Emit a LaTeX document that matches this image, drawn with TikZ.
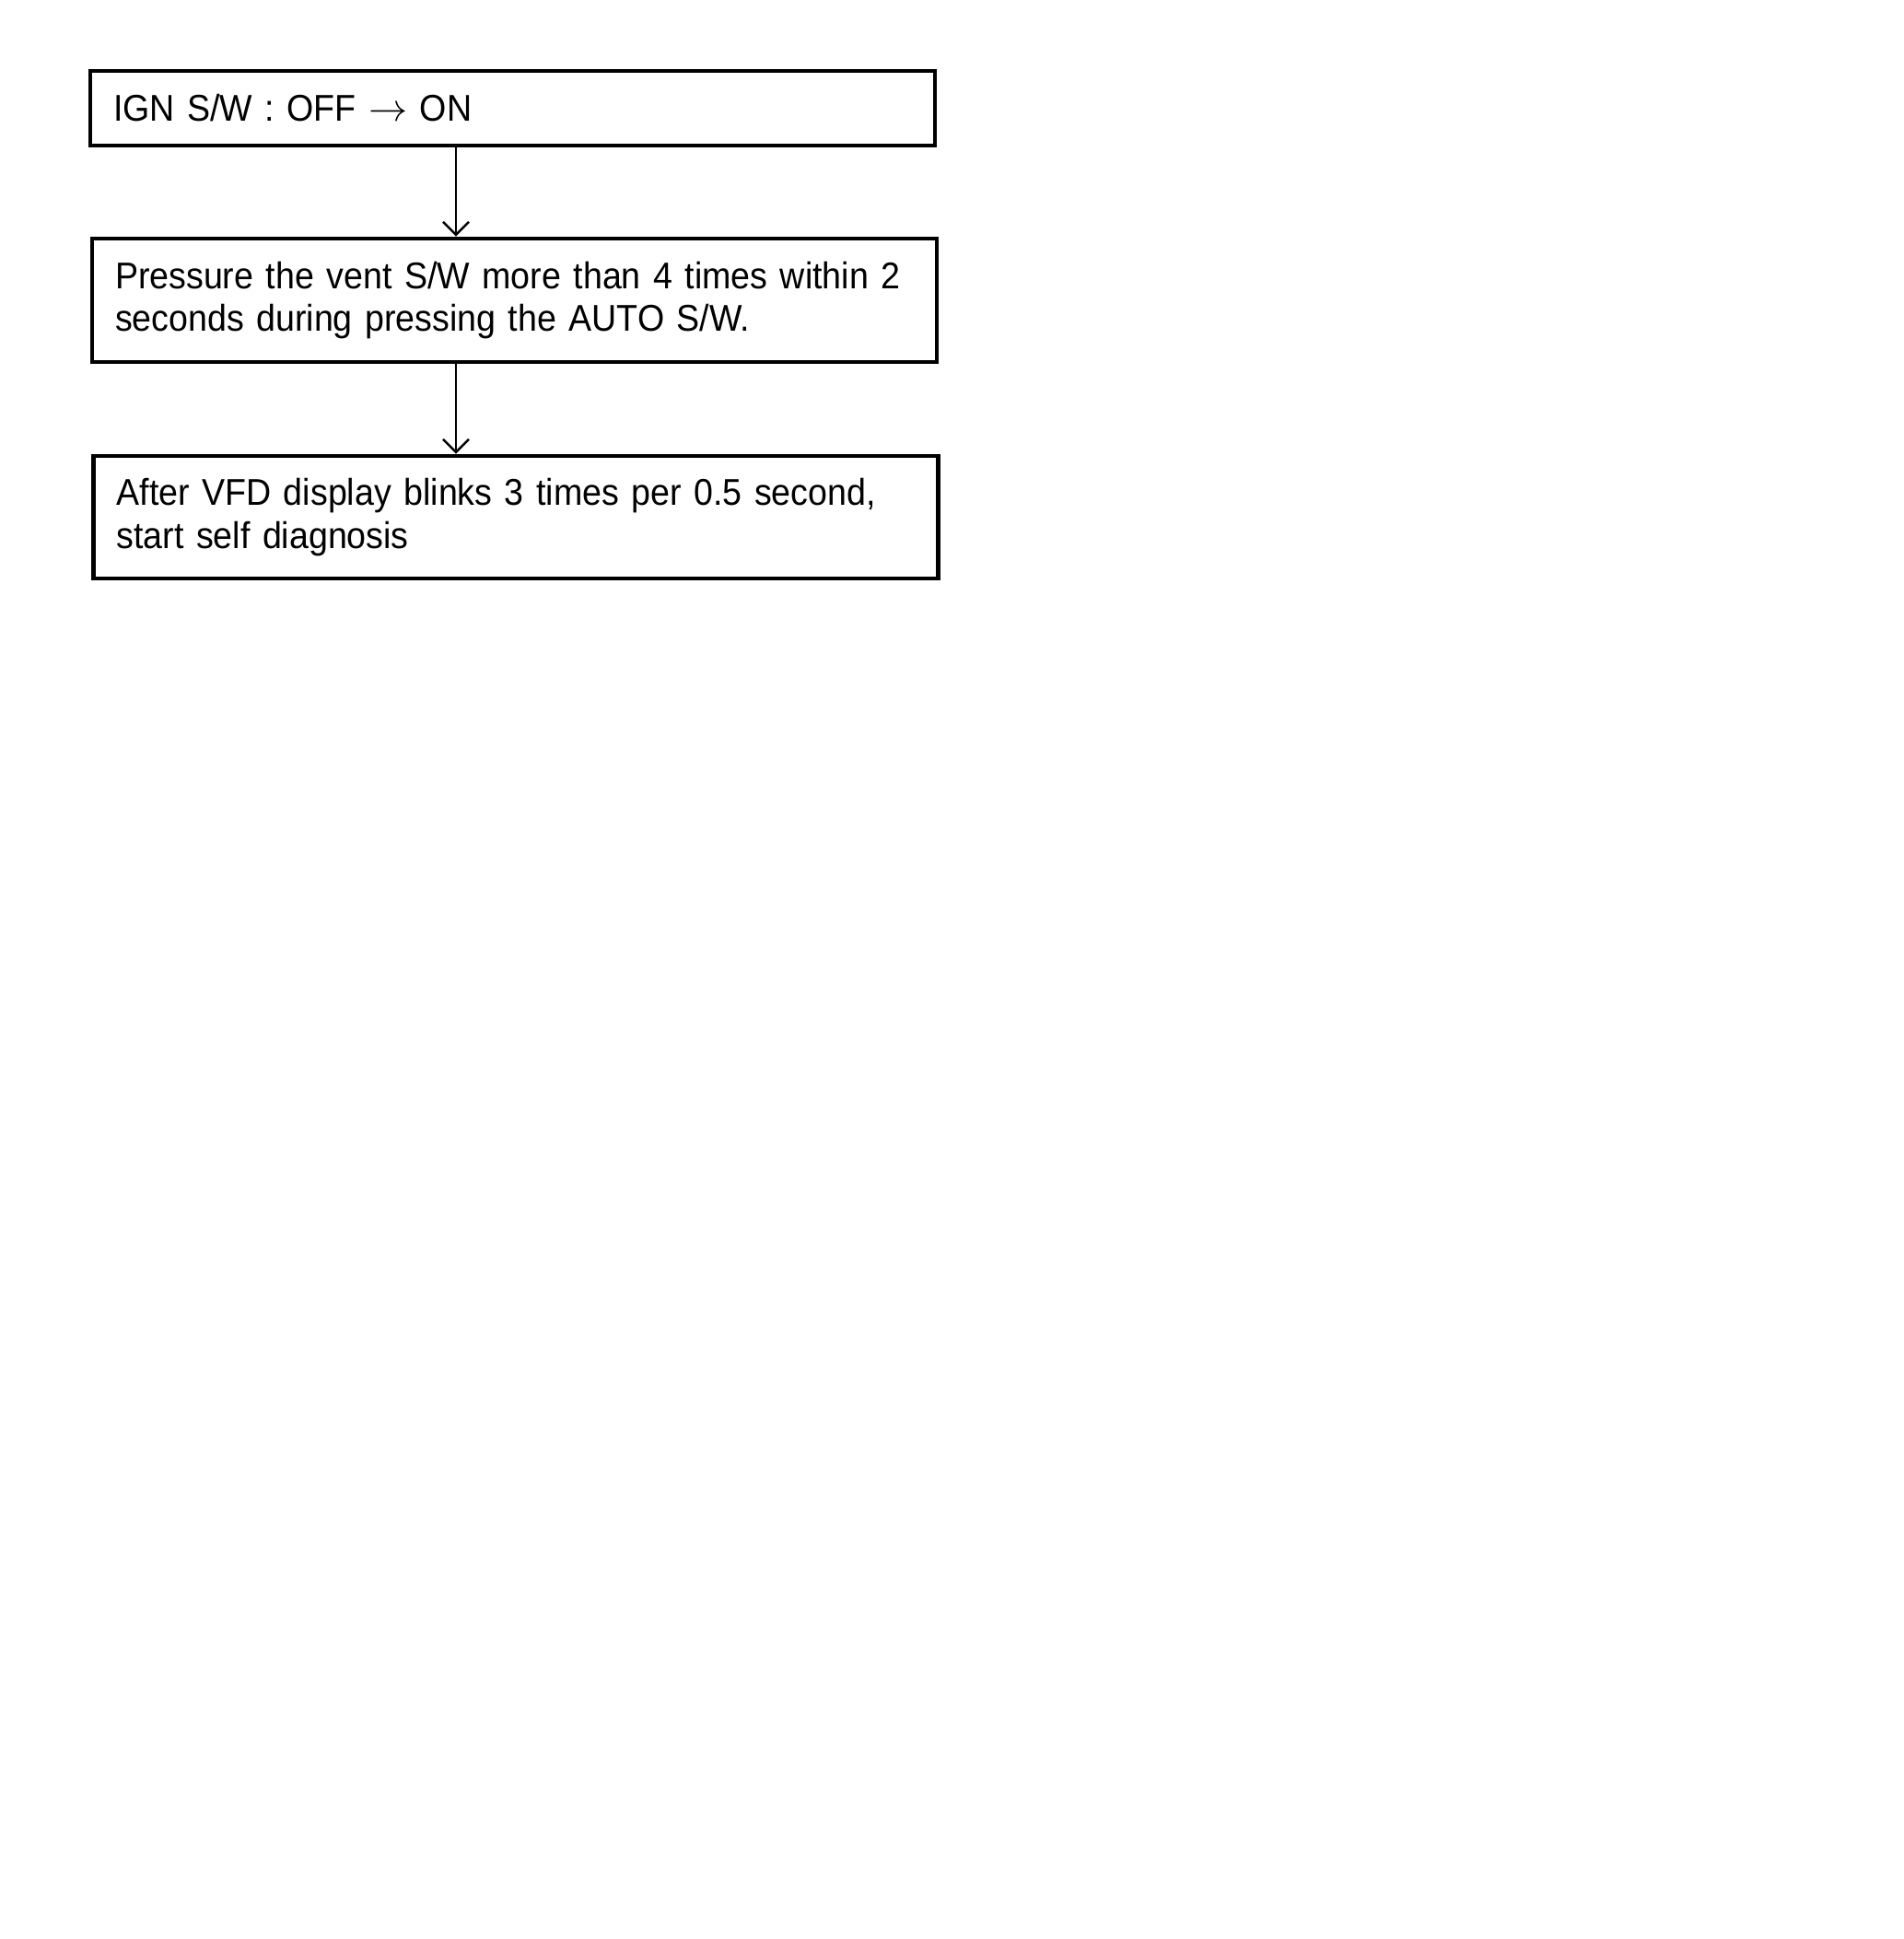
\documentclass[tikz,border=0pt]{standalone}
\usepackage{fontspec}
\setmainfont{Liberation Sans}[FakeStretch=0.93]
\usetikzlibrary{arrows.meta}
\newcommand\boxfont{\fontsize{11.5pt}{13.3pt}\selectfont\spaceskip=2.9pt plus 1pt minus 0.5pt\relax}

\begin{document}
\begin{tikzpicture}
[boxDecorate/.style={draw,line width=1.3pt,text width=8.67cm,inner xsep=0.25cm,
   inner ysep=0pt,align=left,font=\boxfont},%
  lineDecorate/.style={-{Straight Barb[length=0.14cm,width=0.28cm,line width=0.7pt]},line width=0.7pt}]
\useasboundingbox (0,0) rectangle (20.66,-21.05);
%% boxes
\node (b1) at (5.565,-1.175) [boxDecorate,minimum height=0.81cm] {IGN S/W : OFF $\rightarrow$ ON};
\node (b2) at (5.585,-3.26) [boxDecorate,minimum height=1.34cm]
  {Pressure the vent S/W more than 4 times within 2\\seconds during pressing the AUTO S/W.};
\node (b3) at (5.60,-5.615) [boxDecorate,minimum height=1.33cm]
  {After VFD display blinks 3 times per 0.5 second,\\start self diagnosis};
\coordinate (axis) at (4.95,0);
%% arrows
\path
\foreach \startnode/\endnode in {b1/b2, b2/b3}
{
  (\startnode.south -| axis) edge[lineDecorate] (\endnode.north -| axis)
};
\end{tikzpicture}
\end{document}
